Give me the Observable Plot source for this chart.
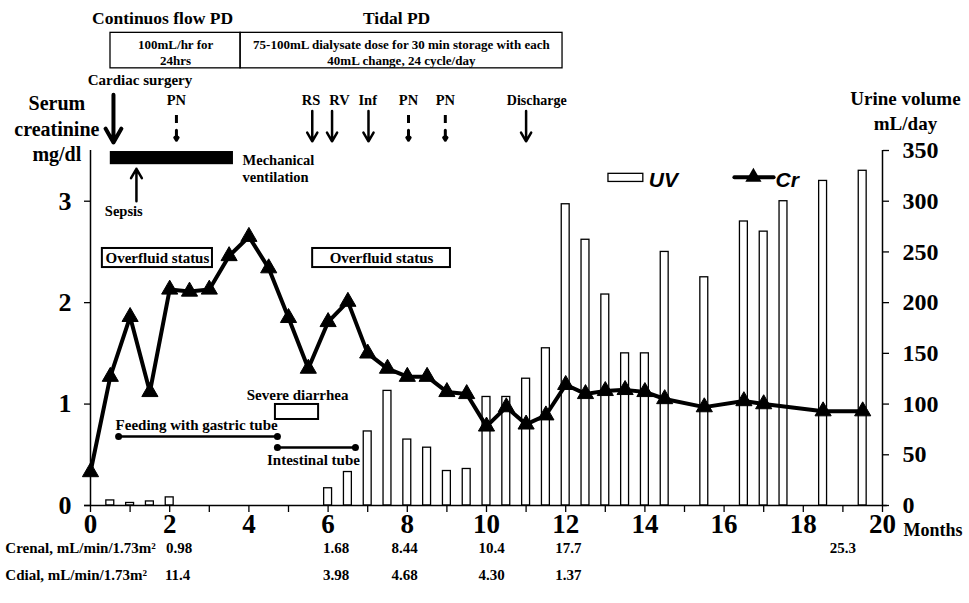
<!DOCTYPE html>
<html>
<head>
<meta charset="utf-8">
<script src="https://cdn.jsdelivr.net/npm/d3@7"></script>
<script src="https://cdn.jsdelivr.net/npm/@observablehq/plot@0.6"></script>
<style>
  html, body { margin: 0; padding: 0; background: #fff; }
  #chart svg { display: block; }
</style>
</head>
<body>
<div id="chart"></div>
<script>
// ---- data ----
const crMonths = [0,0.5,1,1.5,2,2.5,3,3.5,4,4.5,5,5.5,6,6.5,7,7.5,8,8.5,9,9.5,10,10.5,11,11.5,12,12.5,13,13.5,14,14.5,15.5,16.5,17,18.5,19.5];
const crValues = [0.33,1.27,1.86,1.12,2.13,2.11,2.13,2.46,2.65,2.34,1.85,1.35,1.81,2.01,1.50,1.35,1.27,1.27,1.12,1.10,0.78,0.97,0.80,0.89,1.19,1.10,1.13,1.14,1.12,1.05,0.97,1.03,1.00,0.93,0.93];

const uvMonths = [0.5,1,1.5,2,6,6.5,7,7.5,8,8.5,9,9.5,10,10.5,11,11.5,12,12.5,13,13.5,14,14.5,15.5,16.5,17,17.5,18.5,19.5];
const uvValues = [5,2.5,4,8,17,33,73,113,65,57,34,36,107,107,125,155,297,262,208,150,150,250,225,280,270,300,320,330];

const xTickValues = d3.range(0, 21, 1);
const xLabelValues = d3.range(0, 21, 2);
const leftTicks = [0, 1, 2, 3];
const rightTicks = [0, 50, 100, 150, 200, 250, 300, 350];

const crenalLabels = ["0.98", "1.68", "8.44", "10.4", "17.7", "25.3"];
const crenalMonths = [2.24, 6.2, 7.93, 10.13, 12.07, 19.0];
const cdialLabels = ["11.4", "3.98", "4.68", "4.30", "1.37"];
const cdialMonths = [2.2, 6.2, 7.93, 10.13, 12.07];

const solidEventLabels = ["RS", "RV", "Inf"];
const solidEventMonths = [5.6, 6.1, 7.02];
const solidEventLabelMonths = [5.57, 6.29, 7.0];
const dashedEventLabels = ["PN", "PN", "PN"];
const dashedEventMonths = [2.17, 8.03, 8.96];

// ---- tables built from arrays ----
const cr = crMonths.map((m, i) => ({m, v: crValues[i]}));
const uv = uvMonths.map((m, i) => ({m, v: uvValues[i] / 100}));
const crenal = crenalMonths.map((m, i) => ({m, t: crenalLabels[i]}));
const cdial = cdialMonths.map((m, i) => ({m, t: cdialLabels[i]}));
const solidEv = solidEventMonths.map((m, i) => ({m, lm: solidEventLabelMonths[i], t: solidEventLabels[i]}));
const dashedEv = dashedEventMonths.map((m, i) => ({m, t: dashedEventLabels[i]}));

const SERIF = "Liberation Serif";
const SANS = "Liberation Sans";

function label(str, x, y, opts = {}) {
  return Plot.text([str], {
    x: () => x, y: () => y, text: d => d,
    fontFamily: SERIF, fontWeight: "bold", fill: "black", ...opts
  });
}
function box(x1, x2, y1, y2, opts = {}) {
  return Plot.rect([0], {x1: () => x1, x2: () => x2, y1: () => y1, y2: () => y2,
    fill: "none", stroke: "black", strokeWidth: 1.3, ...opts});
}
function arrow(x, y1, y2, opts = {}) {
  return Plot.arrow([0], {x1: () => x, x2: () => x, y1: () => y1, y2: () => y2,
    stroke: "black", strokeWidth: 2.5, headLength: 10, ...opts});
}

const chart = Plot.plot({
  width: 969,
  height: 603,
  marginLeft: 90,
  marginRight: 87,
  marginTop: 150,
  marginBottom: 98,
  x: {domain: [0, 20]},
  y: {domain: [0, 3.5]},
  style: {fontFamily: SERIF, fontWeight: "bold", background: "white", color: "black"},
  marks: [
    // UV bars
    Plot.rectY(uv, {x1: d => d.m - 0.1, x2: d => d.m + 0.1, y1: 0, y2: "v",
      fill: "white", stroke: "black", strokeWidth: 1.3}),

    // axes
    Plot.ruleX([0], {y1: 0, y2: 3.5, stroke: "black", strokeWidth: 1.5}),
    Plot.ruleX([20], {y1: 0, y2: 3.5, stroke: "black", strokeWidth: 1.5}),
    Plot.ruleY([0], {x1: -0.15, x2: 20.12, stroke: "black", strokeWidth: 1.5}),
    Plot.axisY({anchor: "left", ticks: leftTicks, tickSize: 6, tickPadding: 13,
      tickFormat: d => String(d), fontSize: 26, label: null, strokeWidth: 1.3}),
    Plot.axisY({anchor: "right", ticks: rightTicks.map(d => d / 100), tickSize: 6, tickPadding: 14,
      tickFormat: d => String(Math.round(d * 100)), fontSize: 24, label: null, strokeWidth: 1.3}),
    Plot.axisX({ticks: xTickValues, tickSize: 7, tickFormat: () => "", label: null, strokeWidth: 1.3}),
    Plot.axisX({ticks: xLabelValues, tickSize: 0, tickPadding: 8, fontSize: 27, label: null}),

    // Cr line
    Plot.line(cr, {x: "m", y: "v", stroke: "black", strokeWidth: 4}),
    Plot.dot(cr, {x: "m", y: "v", symbol: "triangle", r: 6, fill: "black", stroke: "black", strokeWidth: 1}),

    // legend
    box(13.08, 13.96, 3.19, 3.27, {fill: "white"}),
    label("UV", 14.1, 3.21, {fontFamily: SANS, fontStyle: "italic", fontSize: 21, textAnchor: "start"}),
    Plot.line([16.26, 17.25], {x: d => d, y: () => 3.237, stroke: "black", strokeWidth: 4}),
    Plot.dot([16.74], {x: d => d, y: () => 3.237, symbol: "triangle", r: 6, fill: "black"}),
    label("Cr", 17.3, 3.21, {fontFamily: SANS, fontStyle: "italic", fontSize: 21, textAnchor: "start"}),

    // axis titles
    label("Serum\ncreatinine\nmg/dl", -0.85, 3.727, {fontSize: 20, lineHeight: 1.27}),
    label("Urine volume\nmL/day", 20.58, 3.9, {fontSize: 19, lineHeight: 1.3}),
    label("Months", 20.53, -0.24, {fontSize: 18, textAnchor: "start"}),

    // top treatment boxes
    label("Continuos flow PD", 1.82, 4.8, {fontSize: 17.5}),
    label("Tidal PD", 7.73, 4.8, {fontSize: 17.5}),
    box(0.505, 3.79, 4.31, 4.66),
    box(3.79, 11.92, 4.31, 4.66),
    label("100mL/hr for\n24hrs", 2.15, 4.476, {fontSize: 13, lineHeight: 1.25}),
    label("75-100mL dialysate dose for 30 min storage with each\n40mL change, 24 cycle/day", 7.85, 4.476, {fontSize: 13, lineHeight: 1.25}),

    // events
    label("Cardiac surgery", 1.25, 4.19, {fontSize: 15}),
    arrow(0.58, 4.05, 3.58, {strokeWidth: 4, headLength: 11}),
    Plot.text(solidEv, {x: "lm", y: () => 3.99, text: "t", fontFamily: SERIF, fontWeight: "bold", fontSize: 14.5}),
    Plot.arrow(solidEv, {x1: "m", x2: "m", y1: () => 3.89, y2: () => 3.59, stroke: "black", strokeWidth: 2.5, headLength: 10}),
    Plot.text(dashedEv, {x: "m", y: () => 3.99, text: "t", fontFamily: SERIF, fontWeight: "bold", fontSize: 14.5}),
    Plot.ruleX(dashedEv, {x: "m", y1: () => 3.845, y2: () => 3.766, stroke: "black", strokeWidth: 3}),
    Plot.arrow(dashedEv, {x1: "m", x2: "m", y1: () => 3.70, y2: () => 3.60, stroke: "black", strokeWidth: 3, headLength: 9}),
    label("Discharge", 11.27, 3.99, {fontSize: 14}),
    arrow(11.0, 3.89, 3.59),

    // mechanical ventilation & sepsis
    Plot.rect([0], {x1: () => 0.5, x2: () => 3.61, y1: () => 3.36, y2: () => 3.49, fill: "black"}),
    label("Mechanical\nventilation", 3.84, 3.33, {fontSize: 14.5, textAnchor: "start", lineHeight: 1.24}),
    arrow(1.16, 3.0, 3.32),
    label("Sepsis", 0.84, 2.9, {fontSize: 14.5}),

    // overfluid status boxes
    box(0.3, 3.08, 2.346, 2.534, {strokeWidth: 2}),
    label("Overfluid status", 1.69, 2.44, {fontSize: 15}),
    box(5.61, 9.09, 2.346, 2.534, {strokeWidth: 2}),
    label("Overfluid status", 7.35, 2.44, {fontSize: 15}),

    // diarrhea & feeding
    label("Severe diarrhea", 5.23, 1.085, {fontSize: 15}),
    box(4.67, 5.76, 0.848, 0.996, {strokeWidth: 2}),
    label("Feeding with gastric tube", 2.68, 0.79, {fontSize: 15}),
    Plot.line([0.71, 4.72], {x: d => d, y: () => 0.68, stroke: "black", strokeWidth: 2.5}),
    Plot.dot([0.71, 4.72], {x: d => d, y: () => 0.68, r: 3.5, fill: "black"}),
    Plot.line([4.72, 6.69], {x: d => d, y: () => 0.572, stroke: "black", strokeWidth: 2.5}),
    Plot.dot([4.72, 6.69], {x: d => d, y: () => 0.572, r: 3.5, fill: "black"}),
    label("Intestinal tube", 5.63, 0.444, {fontSize: 15}),

    // clearance table
    label("Crenal, mL/min/1.73m\u00B2", -2.15, -0.424, {fontSize: 15, textAnchor: "start"}),
    label("Cdial, mL/min/1.73m\u00B2", -2.15, -0.69, {fontSize: 15, textAnchor: "start"}),
    Plot.text(crenal, {x: "m", y: () => -0.424, text: "t", fontFamily: SERIF, fontWeight: "bold", fontSize: 15}),
    Plot.text(cdial, {x: "m", y: () => -0.69, text: "t", fontFamily: SERIF, fontWeight: "bold", fontSize: 15})
  ]
});
document.getElementById("chart").appendChild(chart);
</script>
</body>
</html>
